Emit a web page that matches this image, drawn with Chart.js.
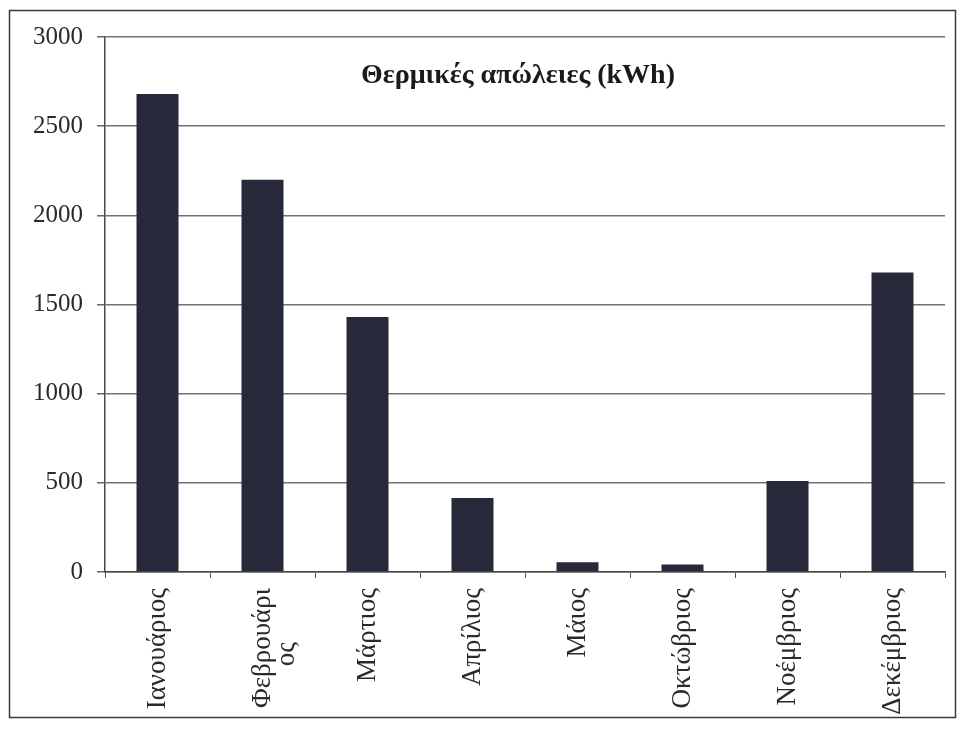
<!DOCTYPE html>
<html>
<head>
<meta charset="utf-8">
<script src="https://cdn.jsdelivr.net/npm/chart.js@4/dist/chart.umd.min.js"></script>
<style>
  html, body { margin: 0; padding: 0; background: #ffffff; }
  #wrap { width: 965px; height: 730px; position: relative; }
</style>
</head>
<body>
<div id="wrap"><canvas id="c" width="965" height="730"></canvas></div>
<script>
// Monthly heat losses (kWh) for the heating months
const months = [
  'Ιανουάριος',
  ['Φεβρουάρι', 'ος        '],
  'Μάρτιος',
  'Απρίλιος',
  'Μάιος',
  'Οκτώβριος',
  'Νοέμβριος',
  'Δεκέμβριος'
];
const heatLoss = [2680, 2200, 1430, 415, 55, 42, 510, 1680];
const yTicks = [0, 500, 1000, 1500, 2000, 2500, 3000];
const chartTitle = 'Θερμικές απώλειες (kWh)';

const serif = '"Liberation Serif", "Times New Roman", serif';

// Outer frame around the whole chart object
const framePlugin = {
  id: 'frame',
  beforeDraw(chart) {
    const ctx = chart.ctx;
    ctx.save();
    ctx.fillStyle = '#ffffff';
    ctx.fillRect(0, 0, chart.width, chart.height);
    ctx.strokeStyle = '#3a3a3a';
    ctx.lineWidth = 1.5;
    ctx.strokeRect(9.5, 10.5, 946, 707);
    ctx.restore();
  }
};

// Title sits inside the plot area
const innerTitle = {
  id: 'innerTitle',
  afterDatasetsDraw(chart) {
    const ctx = chart.ctx;
    ctx.save();
    ctx.font = 'bold 28px ' + serif;
    ctx.fillStyle = '#1a1a1a';
    ctx.textAlign = 'center';
    ctx.textBaseline = 'middle';
    ctx.fillText(chartTitle, 518, 76);
    ctx.restore();
  }
};

new Chart(document.getElementById('c'), {
  type: 'bar',
  data: {
    labels: months,
    datasets: [{
      label: chartTitle,
      data: heatLoss,
      backgroundColor: '#272839',
      borderWidth: 0,
      barPercentage: 0.4,
      categoryPercentage: 1.0
    }]
  },
  options: {
    responsive: false,
    animation: false,
    layout: { padding: { left: 0, right: 20, top: 37, bottom: 0 } },
    plugins: {
      legend: { display: false },
      title: { display: false },
      tooltip: { enabled: false }
    },
    scales: {
      x: {
        grid: {
          drawOnChartArea: false,
          drawTicks: true,
          tickLength: 6,
          color: '#555555',
          tickColor: '#555555'
        },
        border: { color: '#4a4a4a', width: 1.5 },
        ticks: {
          autoSkip: false,
          minRotation: 90,
          maxRotation: 90,
          padding: 10,
          color: '#2a2a2a',
          font: { family: serif, size: 27, lineHeight: 0.9 }
        },
        afterFit(scale) { scale.height = 158; }
      },
      y: {
        min: 0,
        max: 3000,
        afterBuildTicks(scale) {
          scale.ticks = yTicks.map(v => ({ value: v }));
        },
        grid: {
          color: '#737373',
          lineWidth: 1.5,
          drawTicks: true,
          tickLength: 8,
          tickColor: '#666666'
        },
        border: { color: '#4a4a4a', width: 1.5 },
        ticks: {
          padding: 14,
          color: '#2a2a2a',
          font: { family: serif, size: 25 },
          callback: v => String(v)
        },
        afterFit(scale) { scale.width = 105; }
      }
    }
  },
  plugins: [framePlugin, innerTitle]
});
</script>
</body>
</html>
